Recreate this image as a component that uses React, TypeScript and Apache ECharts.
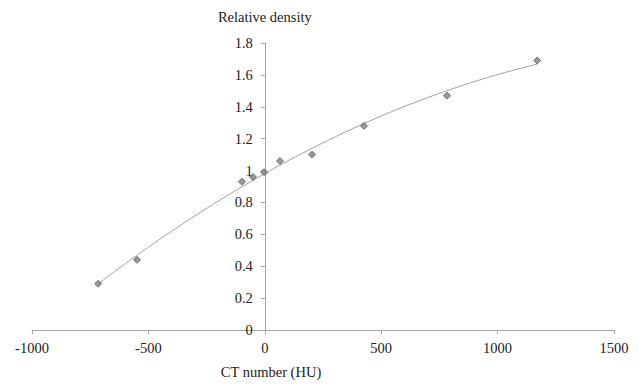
import React, { useEffect, useRef } from "react";
import * as echarts from "echarts";

const ctNumber = [-716, -549, -98, -51, -3, 65, 203, 426, 783, 1170];
const relDensity = [0.29, 0.44, 0.93, 0.96, 0.99, 1.06, 1.1, 1.28, 1.47, 1.69];

// least-squares quadratic trendline computed from the data
function quadFit(xs: number[], ys: number[]) {
  const n = xs.length;
  const s = [0, 0, 0, 0, 0];
  const t = [0, 0, 0];
  for (let i = 0; i < n; i++) {
    const x = xs[i];
    for (let k = 0; k < 5; k++) s[k] += Math.pow(x, k);
    for (let k = 0; k < 3; k++) t[k] += ys[i] * Math.pow(x, k);
  }
  const M = [
    [s[0], s[1], s[2], t[0]],
    [s[1], s[2], s[3], t[1]],
    [s[2], s[3], s[4], t[2]],
  ];
  for (let i = 0; i < 3; i++) {
    let p = i;
    for (let r = i + 1; r < 3; r++) if (Math.abs(M[r][i]) > Math.abs(M[p][i])) p = r;
    [M[i], M[p]] = [M[p], M[i]];
    for (let r = 0; r < 3; r++) {
      if (r === i) continue;
      const f = M[r][i] / M[i][i];
      for (let c = i; c < 4; c++) M[r][c] -= f * M[i][c];
    }
  }
  return [M[0][3] / M[0][0], M[1][3] / M[1][1], M[2][3] / M[2][2]];
}

const GRID_LEFT = 32;
const GRID_RIGHT = 25;
const WIDTH = 639;
const X_MIN = -1000;
const X_MAX = 1500;

export default function App() {
  const ref = useRef<HTMLDivElement>(null);
  useEffect(() => {
    const chart = echarts.init(ref.current!, null, { renderer: "svg" });
    const [a, b, c] = quadFit(ctNumber, relDensity);
    const xMin = Math.min(...ctNumber);
    const xMax = Math.max(...ctNumber);
    const trend: number[][] = [];
    const steps = 80;
    for (let i = 0; i <= steps; i++) {
      const x = xMin + ((xMax - xMin) * i) / steps;
      trend.push([x, a + b * x + c * x * x]);
    }
    const plotW = WIDTH - GRID_LEFT - GRID_RIGHT;
    const yOffset = -(plotW * (0 - X_MIN)) / (X_MAX - X_MIN);
    const font = "Liberation Serif";
    chart.setOption({
      animation: false,
      backgroundColor: "#ffffff",
      grid: { left: GRID_LEFT, right: GRID_RIGHT, top: 43, bottom: 50, containLabel: false },
      xAxis: {
        type: "value",
        min: X_MIN,
        max: X_MAX,
        interval: 500,
        name: "CT number (HU)",
        nameLocation: "middle",
        nameGap: 34,
        nameTextStyle: { fontFamily: font, fontSize: 14.5, color: "#222", padding: [0, 104, 0, 0] },
        axisLine: { onZero: true, lineStyle: { color: "#a6a6a6", width: 1 } },
        axisTick: { show: true, length: 4, lineStyle: { color: "#a6a6a6" } },
        axisLabel: {
          fontFamily: font,
          fontSize: 14.5,
          color: "#222",
          margin: 10,
          formatter: (v: number) => String(v),
        },
        splitLine: { show: false },
      },
      yAxis: {
        type: "value",
        min: 0,
        max: 1.8,
        interval: 0.2,
        offset: yOffset,
        name: "Relative density",
        nameLocation: "end",
        nameGap: 26,
        nameTextStyle: { fontFamily: font, fontSize: 14.5, color: "#222", verticalAlign: "middle", align: "center" },
        axisLine: { show: true, onZero: false, lineStyle: { color: "#a6a6a6", width: 1 } },
        axisTick: { show: true, length: 4, lineStyle: { color: "#a6a6a6" } },
        axisLabel: {
          fontFamily: font,
          fontSize: 14.5,
          color: "#222",
          margin: 12,
          formatter: (v: number) => String(Math.round(v * 10) / 10),
        },
        splitLine: { show: false },
      },
      series: [
        {
          type: "line",
          data: trend,
          showSymbol: false,
          symbol: "none",
          smooth: false,
          lineStyle: { color: "#a0a0a0", width: 1 },
          silent: true,
          z: 1,
        },
        {
          type: "scatter",
          data: ctNumber.map((x, i) => [x, relDensity[i]]),
          symbol: "diamond",
          symbolSize: 7,
          itemStyle: { color: "#7f7f7f", borderColor: "#404040", borderWidth: 0.8 },
          z: 2,
        },
      ],
    });
    return () => chart.dispose();
  }, []);
  return (
    <div
      ref={ref}
      style={{ position: "fixed", left: 0, top: 0, width: 639, height: 384, background: "#fff" }}
    />
  );
}
